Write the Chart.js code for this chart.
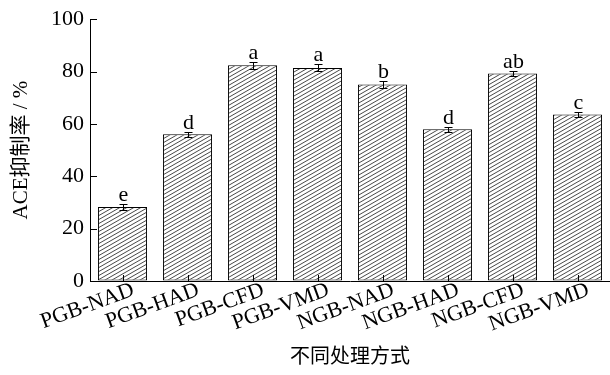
<!DOCTYPE html>
<html>
<head>
<meta charset="utf-8">
<script src="https://cdn.jsdelivr.net/npm/chart.js@4/dist/chart.umd.min.js"></script>
<style>
  html, body { margin: 0; padding: 0; background: #fff; overflow: hidden; }
  #wrap { width: 610px; height: 375px; position: relative; }
</style>
</head>
<body>
<div id="wrap"><canvas id="chart"></canvas></div>
<script>
// ACE inhibition by processing method
var categories = ['PGB-NAD', 'PGB-HAD', 'PGB-CFD', 'PGB-VMD', 'NGB-NAD', 'NGB-HAD', 'NGB-CFD', 'NGB-VMD'];
var values     = [28.3, 56.1, 82.4, 81.4, 75.1, 58.0, 79.3, 63.6];
var errors     = [1.3, 1.0, 1.3, 1.3, 1.4, 0.9, 1.0, 1.1];
var letters    = ['e', 'd', 'a', 'a', 'b', 'd', 'ab', 'c'];
var yTicks     = [0, 20, 40, 60, 80, 100];

var serif = '"Liberation Serif", "Times New Roman", "Noto Sans CJK SC", serif';

// diagonal hatch fill
function makeHatch(){
    var c = document.createElement('canvas'), w = 7, h = 4;
    c.width = w; c.height = h;
    var g = c.getContext('2d');
    g.fillStyle = '#fff';
    g.fillRect(0, 0, w, h);
    g.strokeStyle = '#333';
    g.lineWidth = 0.9;
    for (var k = -1; k <= 1; k++) {
        g.beginPath();
        g.moveTo(k * w - w, 2 * h);
        g.lineTo(k * w + 2 * w, -h);
        g.stroke();
    }
    return g.createPattern(c, 'repeat');
}

// inward ticks, error bars and significance letters
var marks = {
    id: 'marks',
    afterDatasetsDraw: function(chart){
        var ctx = chart.ctx,
            xs  = chart.scales.x,
            ys  = chart.scales.y,
            a   = chart.chartArea;
        ctx.save();
        ctx.strokeStyle = '#000';
        ctx.lineWidth = 1;

        yTicks.forEach(function(t){
            var py = Math.round(ys.getPixelForValue(t)) + 0.5;
            ctx.beginPath();
            ctx.moveTo(a.left, py);
            ctx.lineTo(a.left + 7, py);
            ctx.stroke();
        });

        categories.forEach(function(c, i){
            var px = Math.round(xs.getPixelForValue(i)) + 0.5;
            ctx.beginPath();
            ctx.moveTo(px, a.bottom);
            ctx.lineTo(px, a.bottom - 6);
            ctx.stroke();
        });

        ctx.font = '22px ' + serif;
        ctx.fillStyle = '#000';
        ctx.textAlign = 'center';
        ctx.textBaseline = 'alphabetic';
        values.forEach(function(v, i){
            var px  = Math.round(xs.getPixelForValue(i)) + 0.5,
                top = Math.round(ys.getPixelForValue(v + errors[i])) + 0.5,
                bot = Math.round(ys.getPixelForValue(v - errors[i])) + 0.5;
            ctx.beginPath();
            ctx.moveTo(px, top); ctx.lineTo(px, bot);
            ctx.moveTo(px - 4, top); ctx.lineTo(px + 4, top);
            ctx.moveTo(px - 4, bot); ctx.lineTo(px + 4, bot);
            ctx.stroke();
            ctx.fillText(letters[i], px, top - 4);
        });
        ctx.restore();
    }
};

new Chart(document.getElementById('chart').getContext('2d'), {
    type: 'bar',
    data: {
        labels: categories,
        datasets: [{
            data: values,
            backgroundColor: makeHatch(),
            borderColor: '#000',
            borderWidth: 1,
            borderSkipped: false,
            categoryPercentage: 1,
            barPercentage: 0.755
        }]
    },
    options: {
        responsive: true,
        maintainAspectRatio: false,
        animation: false,
        layout: { padding: { top: 19, right: 0, bottom: 0, left: 0 } },
        plugins: { legend: { display: false }, tooltip: { enabled: false } },
        scales: {
            x: {
                afterFit: function(s){ s.height = 94; },
                grid: { display: true, drawOnChartArea: false, drawTicks: false },
                border: { color: '#000', width: 1 },
                ticks: {
                    color: '#000',
                    font: { family: serif, size: 22 },
                    minRotation: 20, maxRotation: 20,
                    padding: -4,
                    labelOffset: 11,
                    autoSkip: false
                },
                title: {
                    display: true,
                    text: '不同处理方式',
                    color: '#000',
                    font: { family: serif, size: 20 },
                    padding: { top: 0, bottom: 5 }
                }
            },
            y: {
                min: 0, max: 100,
                afterFit: function(s){ s.width = 90; },
                afterBuildTicks: function(s){ s.ticks = yTicks.map(function(v){ return { value: v }; }); },
                grid: { display: true, drawOnChartArea: false, drawTicks: false },
                border: { color: '#000', width: 1 },
                ticks: {
                    color: '#000',
                    font: { family: serif, size: 22 },
                    padding: 6
                },
                title: {
                    display: true,
                    text: 'ACE抑制率 / %',
                    color: '#000',
                    font: { family: serif, size: 21 },
                    padding: { top: 9, bottom: 0 }
                }
            }
        }
    },
    plugins: [marks]
});
</script>
</body>
</html>
